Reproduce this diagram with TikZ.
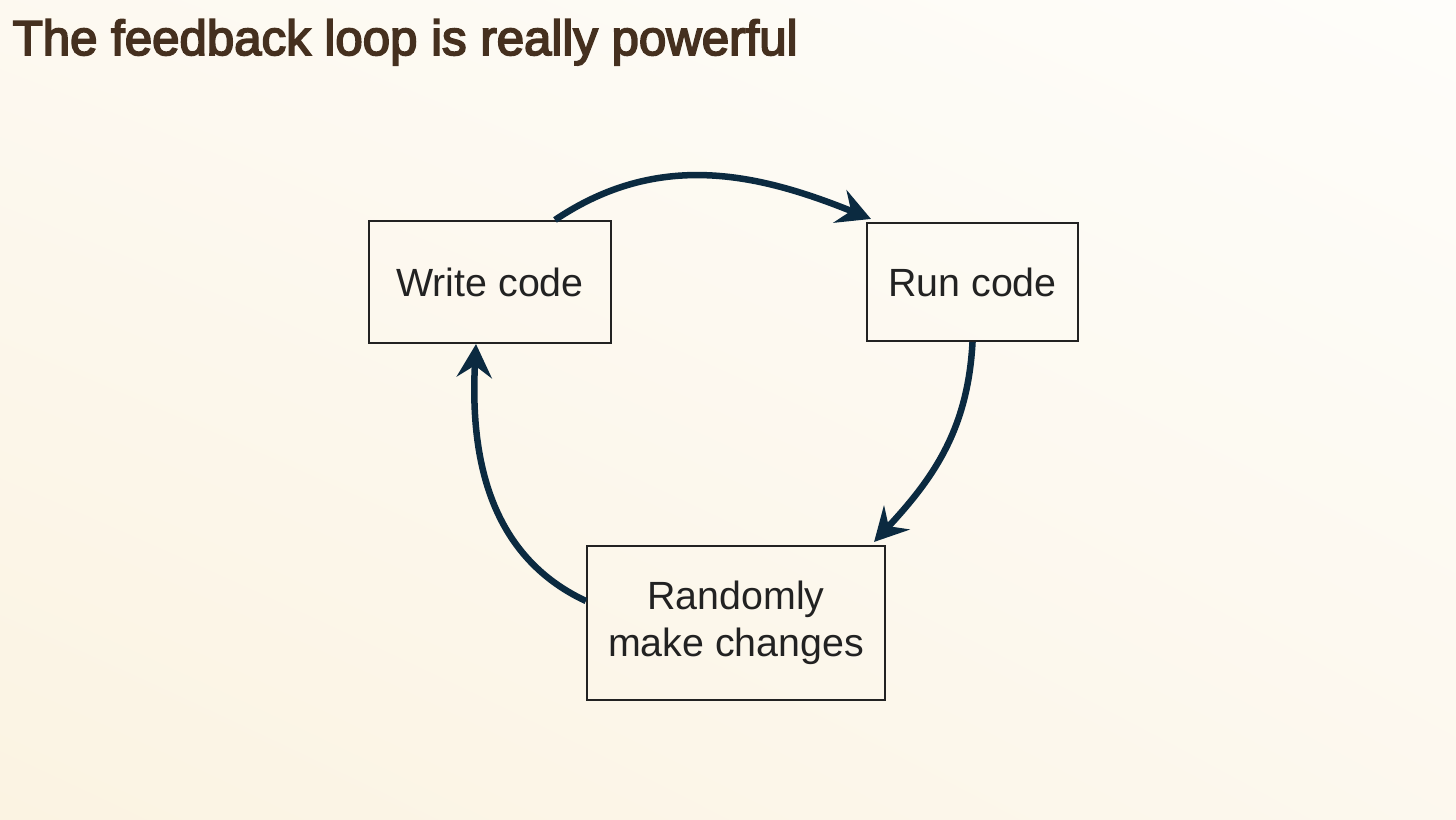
\documentclass[tikz,border=0pt]{standalone}
\usepackage{fontspec}
\setmainfont{Liberation Sans}
\newfontfamily\titlefont[FakeBold=3.5]{Liberation Sans}
\usetikzlibrary{arrows.meta,positioning,shadings}
\definecolor{bgtop}{HTML}{FEFDFA}
\definecolor{bgbot}{HTML}{FBF3E2}
\definecolor{titlebrown}{HTML}{45301F}
\definecolor{navy}{HTML}{0B2A40}
\definecolor{ink}{HTML}{222222}

\begin{document}
\begin{tikzpicture}[font=\fontsize{11.2}{13.3}\selectfont,
  box/.style={draw=ink,line width=0.6pt,text=ink,align=center,inner sep=0pt},
  loop/.style={navy,line width=1.85pt,-{Stealth[length=9.5pt,width=10pt,inset=3.4pt]}}]
  % ---------- background
  \shade[lower left=bgbot,upper right=bgtop,upper left=bgtop!60!bgbot,lower right=bgtop!50!bgbot]
    (0,0) rectangle (14.56,8.19);
  \useasboundingbox (0,0) rectangle (14.56,8.19);
  \node[anchor=base west,inner sep=0pt,text=titlebrown,font=\titlefont\fontsize{14}{16}\selectfont]
    (title) at (0.12,7.64) {The feedback loop is really powerful};
  % ---------- the three steps
  \node[box,minimum width=2.42cm,minimum height=1.22cm] (write) at (4.90,5.37) {Write code};
  \node[box,minimum width=2.11cm,minimum height=1.18cm] (run) at (9.725,5.37) {Run code};
  \node[box,minimum width=2.98cm,minimum height=1.54cm] (rand) at (7.36,1.96) {Randomly\\make changes};
  % ---------- loop arrows
  \draw[loop] ([xshift=0.65cm]write.north) to[out=34,in=158] ([xshift=0.05cm,yshift=0.03cm]run.north west);
  \draw[loop] (run.south) to[out=-93,in=47] ([xshift=-0.12cm,yshift=0.03cm]rand.north east);
  \draw[loop] ([yshift=0.22cm]rand.west) to[out=155,in=-93] ([xshift=-0.14cm]write.south);
\end{tikzpicture}
\end{document}
